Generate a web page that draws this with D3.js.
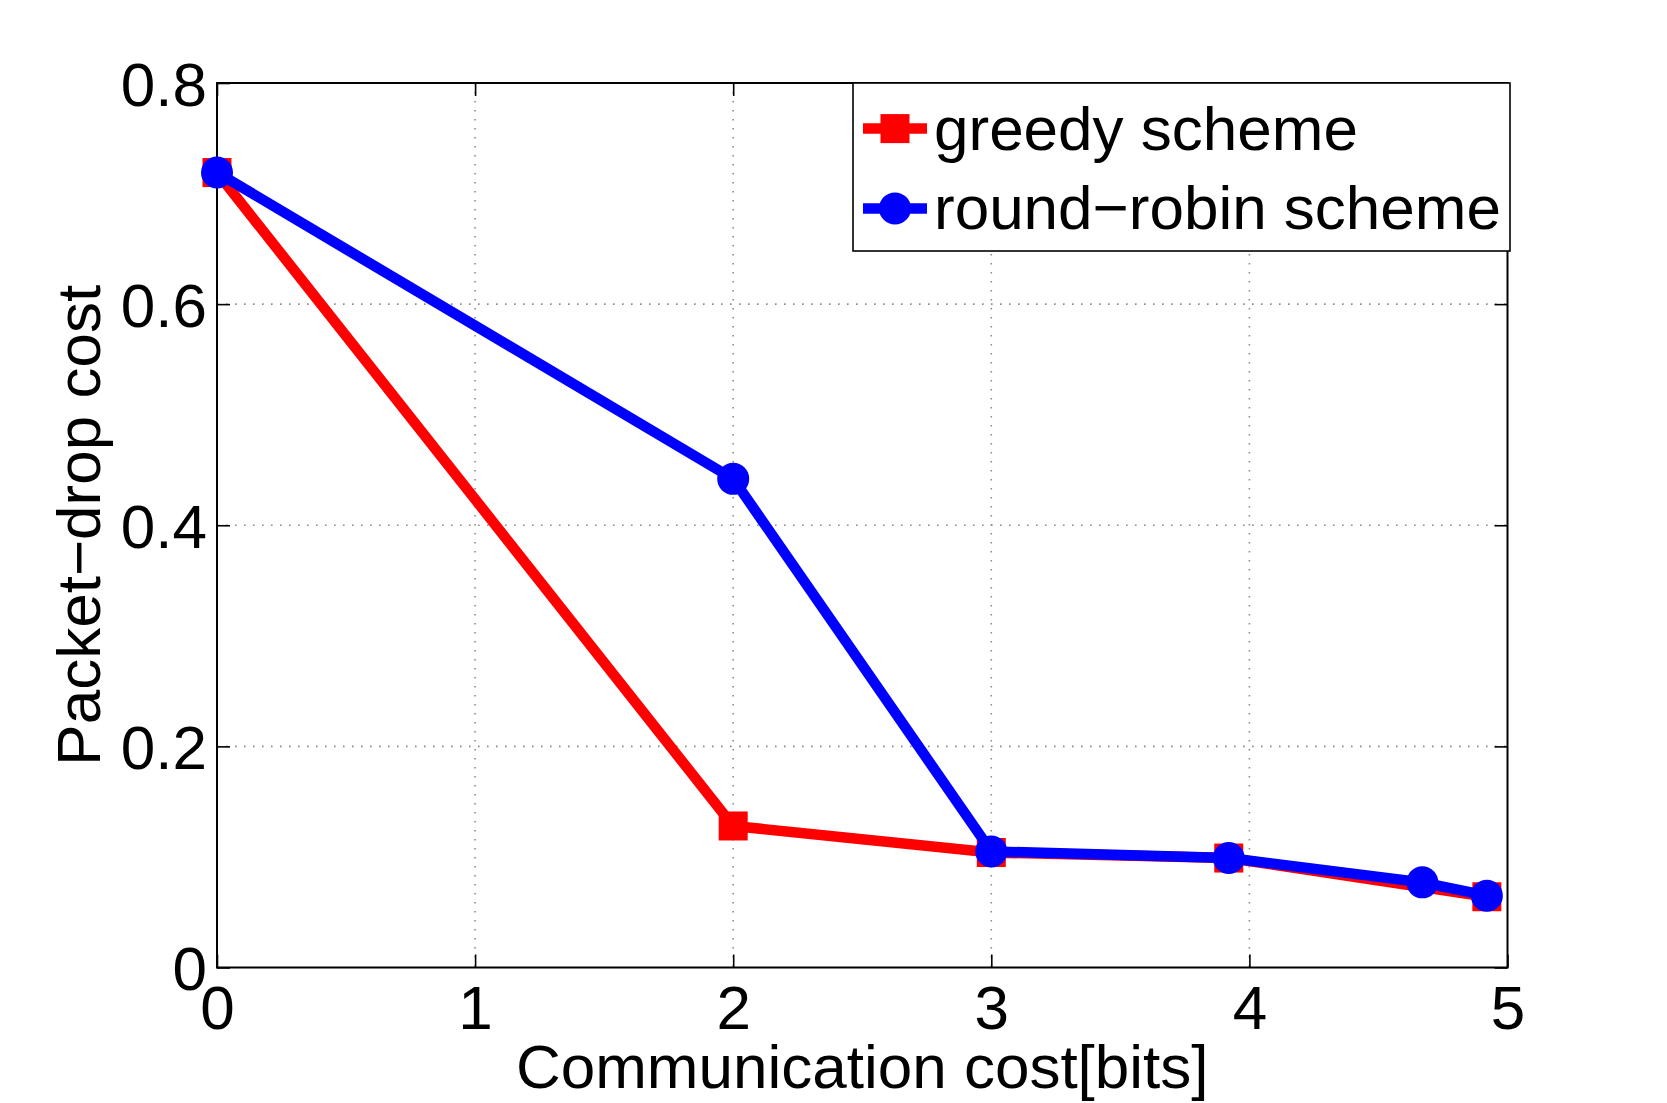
<!DOCTYPE html>
<html>
<head>
<meta charset="utf-8">
<script src="https://cdn.jsdelivr.net/npm/d3@7"></script>
<style>
  html, body { margin: 0; padding: 0; background: #fff; }
  svg { display: block; }
  text { font-family: "Liberation Sans", Arial, Helvetica, sans-serif; fill: #000; }
</style>
</head>
<body>
<svg id="chart" width="1667" height="1103"></svg>
<script>
// ---- data ----
const greedyCommCost = [0, 2, 3, 3.92, 4.92];
const greedyValues = [0.719, 0.128, 0.104, 0.099, 0.064];
const roundRobinCommCost = [0, 2, 3, 3.92, 4.67, 4.92];
const roundRobinValues = [0.719, 0.442, 0.105, 0.099, 0.077, 0.065];
const seriesNames = ["greedy scheme", "round\u2212robin scheme"];
const seriesColors = ["#ff0000", "#0000ff"];
const xTicks = [0, 1, 2, 3, 4, 5];
const yTicks = [0, 0.2, 0.4, 0.6, 0.8];
const xLabel = "Communication cost[bits]";
const yLabel = "Packet\u2212drop cost";

// ---- layout ----
const svg = d3.select("#chart");
const L = 217, R = 1507.5, T = 83, B = 967.5;
const x = d3.scaleLinear().domain([0, 5]).range([L, R]);
const y = d3.scaleLinear().domain([0, 0.8]).range([B, T]);
const FS = 62;

// grid
const grid = svg.append("g").attr("stroke", "#8c8c8c").attr("stroke-width", 1.6).attr("stroke-dasharray", "1.6,7.4");
xTicks.filter(d => d > 0 && d < 5).forEach(d => {
  grid.append("line").attr("x1", x(d)).attr("x2", x(d)).attr("y1", T).attr("y2", B);
});
yTicks.filter(d => d > 0 && d < 0.8).forEach(d => {
  grid.append("line").attr("x1", L).attr("x2", R).attr("y1", y(d)).attr("y2", y(d));
});

// axes with inside ticks
const tickLen = 13;
const axB = d3.axisBottom(x).tickValues(xTicks).tickSize(-tickLen).tickSizeOuter(0).tickPadding(0).tickFormat(d3.format("d"));
const gB = svg.append("g").attr("transform", `translate(0,${B})`).call(axB);
const axT = d3.axisTop(x).tickValues(xTicks).tickSize(-tickLen).tickSizeOuter(0).tickFormat("");
const gT = svg.append("g").attr("transform", `translate(0,${T})`).call(axT);
const axLft = d3.axisLeft(y).tickValues(yTicks).tickSize(-tickLen).tickSizeOuter(0).tickPadding(0).tickFormat(d => d === 0 ? "0" : d3.format(".1f")(d));
const gL = svg.append("g").attr("transform", `translate(${L},0)`).call(axLft);
const axRt = d3.axisRight(y).tickValues(yTicks).tickSize(-tickLen).tickSizeOuter(0).tickFormat("");
const gR = svg.append("g").attr("transform", `translate(${R},0)`).call(axRt);

[gB, gT, gL, gR].forEach(g => {
  g.select(".domain").remove();
  g.selectAll(".tick line").attr("stroke", "#000").attr("stroke-width", 1.6);
});
gB.selectAll(".tick text").attr("font-size", FS).attr("y", 0).attr("dy", null)
  .attr("transform", "translate(0,61)").attr("text-anchor", "middle");
gL.selectAll(".tick text").attr("font-size", FS).attr("x", -10).attr("dy", "0.36em").attr("text-anchor", "end");
svg.selectAll(".tick text").style("font-family", "'Liberation Sans', Arial, sans-serif").attr("fill", "#000");

// box
svg.append("rect").attr("x", L).attr("y", T).attr("width", R - L).attr("height", B - T)
  .attr("fill", "none").attr("stroke", "#000").attr("stroke-width", 2);

// series
const line = d3.line().x(d => x(d[0])).y(d => y(d[1]));
const LW = 10.5;
function drawSeries(xs, vals, color, marker) {
  const pts = xs.map((c, i) => [c, vals[i]]);
  svg.append("path").datum(pts).attr("d", line).attr("fill", "none")
    .attr("stroke", color).attr("stroke-width", LW).attr("stroke-linejoin", "miter");
  const g = svg.append("g");
  if (marker === "square") {
    g.selectAll("rect").data(pts).join("rect")
      .attr("x", d => x(d[0]) - 14.5).attr("y", d => y(d[1]) - 14.5)
      .attr("width", 29).attr("height", 29).attr("fill", color);
  } else {
    g.selectAll("circle").data(pts).join("circle")
      .attr("cx", d => x(d[0])).attr("cy", d => y(d[1])).attr("r", 16).attr("fill", color);
  }
}
drawSeries(greedyCommCost, greedyValues, seriesColors[0], "square");
drawSeries(roundRobinCommCost, roundRobinValues, seriesColors[1], "circle");

// axis labels
svg.append("text").attr("x", (L + R) / 2).attr("y", 1088).attr("text-anchor", "middle")
  .attr("font-size", FS).text(xLabel);
svg.append("text").attr("transform", `translate(100,${(T + B) / 2}) rotate(-90)`)
  .attr("text-anchor", "middle").attr("font-size", FS).text(yLabel);

// legend
const lg = svg.append("g");
lg.append("rect").attr("x", 853).attr("y", 83).attr("width", 657).attr("height", 168)
  .attr("fill", "#fff").attr("stroke", "#000").attr("stroke-width", 1.6);
const rowsY = [128.6, 208.4];
seriesNames.forEach((name, i) => {
  const cy = rowsY[i];
  lg.append("line").attr("x1", 863).attr("x2", 927).attr("y1", cy).attr("y2", cy)
    .attr("stroke", seriesColors[i]).attr("stroke-width", LW);
  if (i === 0) {
    lg.append("rect").attr("x", 895 - 14.5).attr("y", cy - 14.5).attr("width", 29).attr("height", 29).attr("fill", seriesColors[i]);
  } else {
    lg.append("circle").attr("cx", 895).attr("cy", cy).attr("r", 16).attr("fill", seriesColors[i]);
  }
  lg.append("text").attr("x", 934).attr("y", cy + 21).attr("font-size", FS).text(name);
});
</script>
</body>
</html>
